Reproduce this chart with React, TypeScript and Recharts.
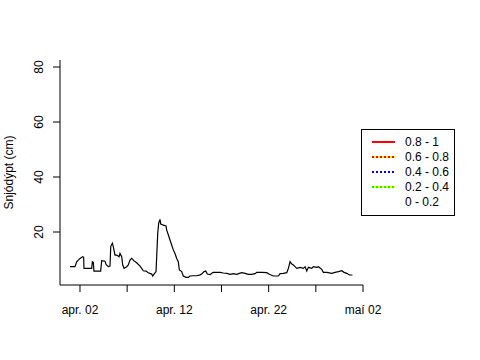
import { LineChart, Line, XAxis, YAxis } from "recharts";

const days = [
  0.94, 1.47, 1.65, 2.0, 2.29, 2.39, 2.42, 3.24, 3.31, 3.41, 3.48, 4.19, 4.3,
  4.65, 4.76, 5.0, 5.18, 5.26, 5.43, 5.53, 5.71, 5.89, 6.14, 6.24, 6.42, 6.53,
  6.67, 6.95, 7.12, 7.3, 7.48, 7.73, 8.01, 8.36, 8.54, 8.71, 9.0, 9.24, 9.6,
  9.71, 9.85, 10.06, 10.13, 10.24, 10.34, 10.48, 10.56, 10.83, 11.12, 11.19,
  11.37, 11.54, 11.72, 11.89, 12.07, 12.25, 12.42, 12.53, 12.78, 12.95, 13.24,
  13.48, 13.66, 14.01, 14.38, 14.73, 14.9, 15.15, 15.33, 15.5, 15.79, 15.97,
  16.14, 16.85, 17.2, 17.56, 17.91, 18.26, 18.62, 18.89, 19.15, 19.5, 19.85,
  20.2, 20.56, 20.74, 21.27, 21.8, 22.07, 22.5, 23.03, 23.21, 23.56, 23.92,
  24.09, 24.27, 24.45, 24.62, 24.8, 24.98, 25.33, 25.68, 25.86, 26.04, 26.21,
  26.57, 26.74, 27.1, 27.27, 27.63, 27.8, 28.16, 28.69, 29.04, 29.39, 29.75,
  29.99, 30.28, 30.56, 30.88,
];

const snow = [
  7.4, 7.4, 9.2, 10.4, 11.0, 10.8, 6.8, 6.8, 9.2, 9.0, 5.8, 5.8, 9.6, 9.4, 8.2,
  7.4, 7.6, 14.7, 15.9, 14.7, 11.6, 11.6, 11.0, 12.2, 11.0, 8.0, 6.8, 7.4, 8.0,
  9.8, 10.4, 9.5, 8.8, 7.6, 6.8, 5.9, 5.8, 5.2, 4.7, 4.0, 4.7, 5.6, 11.0, 19.5,
  23.2, 24.6, 22.9, 22.5, 22.2, 20.7, 18.9, 17.1, 15.3, 13.5, 12.2, 10.4, 9.2,
  6.2, 5.6, 4.0, 3.5, 3.5, 4.0, 4.1, 4.1, 4.4, 4.7, 5.6, 5.8, 4.7, 4.5, 4.97,
  5.33, 5.33, 5.09, 4.97, 4.61, 4.85, 4.61, 4.97, 5.21, 4.97, 4.61, 4.61, 4.85,
  5.33, 5.33, 5.21, 4.61, 4.0, 4.0, 4.85, 4.97, 5.21, 6.79, 9.21, 8.36, 8.0,
  7.39, 6.79, 7.15, 6.79, 7.39, 5.82, 7.15, 6.79, 7.39, 7.15, 7.39, 6.42, 5.33,
  5.33, 4.97, 5.33, 5.58, 5.94, 5.33, 4.97, 4.36, 4.36,
];

const xTicks = [2, 7, 12, 17, 22, 27, 32];
const xTickLabels = ["apr. 02", "", "apr. 12", "", "apr. 22", "", "maí 02"];
const yTicks = [20, 40, 60, 80];

const legendLabels = ["0.8 - 1", "0.6 - 0.8", "0.4 - 0.6", "0.2 - 0.4", "0 - 0.2"];
const legendBase = ["#ff0000", "#ffff00", "#ffffff", "#ffff00", "none"];
const legendDash = ["#ff0000", "#ff0000", "#0000ff", "#00ff00", "none"];

const chartData = days.map((d, i) => ({ day: d, snow: snow[i] }));

const FONT = "'Liberation Sans', Arial, Helvetica, sans-serif";

function XTick(props: any) {
  const { x, y, payload } = props;
  const label = xTickLabels[xTicks.indexOf(payload.value)] || "";
  if (!label) return null;
  return (
    <text x={x} y={y + 20} textAnchor="middle" fontSize={12} fontFamily={FONT} fill="#000">
      {label}
    </text>
  );
}

function YTick(props: any) {
  const { x, y, payload } = props;
  return (
    <text
      x={0}
      y={0}
      transform={`translate(${x - 8}, ${y}) rotate(-90)`}
      textAnchor="middle"
      fontSize={12}
      fontFamily={FONT}
      fill="#000"
    >
      {payload.value}
    </text>
  );
}

function LegendBox() {
  return (
    <svg width={95} height={88} style={{ display: "block" }}>
      <rect x={0.5} y={0.5} width={93} height={86} fill="#fff" stroke="#000" />
      {legendLabels.map((lab, i) => {
        const y = 13 + i * 15;
        return (
          <g key={lab}>
            {legendBase[i] !== "none" && (
              <line x1={11} x2={34} y1={y} y2={y} stroke={legendBase[i]} strokeWidth={2} />
            )}
            {legendDash[i] !== "none" && (
              <line
                x1={11}
                x2={34}
                y1={y}
                y2={y}
                stroke={legendDash[i]}
                strokeWidth={2}
                strokeDasharray={i === 0 ? undefined : "2 2"}
              />
            )}
            <text x={44} y={y + 4} fontSize={12} fontFamily={FONT} fill="#000">
              {lab}
            </text>
          </g>
        );
      })}
    </svg>
  );
}

export default function App() {
  return (
    <div style={{ position: "absolute", left: 0, top: 0, width: 480, height: 360, background: "#fff" }}>
      <LineChart
        width={480}
        height={360}
        data={chartData}
        margin={{ top: 60, right: 117, bottom: 45, left: 0 }}
      >
        <XAxis
          dataKey="day"
          type="number"
          domain={[-0.12, 32]}
          ticks={xTicks}
          allowDataOverflow
          interval={0}
          height={30}
          stroke="#000"
          tickSize={7}
          tick={<XTick />}
          tickLine={{ stroke: "#000" }}
        />
        <YAxis
          type="number"
          domain={[0.73, 82.55]}
          ticks={yTicks}
          allowDataOverflow
          width={60}
          stroke="#000"
          tickSize={7}
          tick={<YTick />}
          label={{
            value: "Snjódýpt (cm)",
            angle: -90,
            position: "insideLeft",
            offset: 0,
            dx: 9,
            style: { fontSize: 12, fontFamily: FONT, fill: "#000", textAnchor: "middle" },
          }}
        />
        <Line
          type="linear"
          dataKey="snow"
          stroke="#000"
          strokeWidth={1.2}
          dot={false}
          isAnimationActive={false}
        />
      </LineChart>
      <div style={{ position: "absolute", left: 361, top: 129 }}>
        <LegendBox />
      </div>
    </div>
  );
}
